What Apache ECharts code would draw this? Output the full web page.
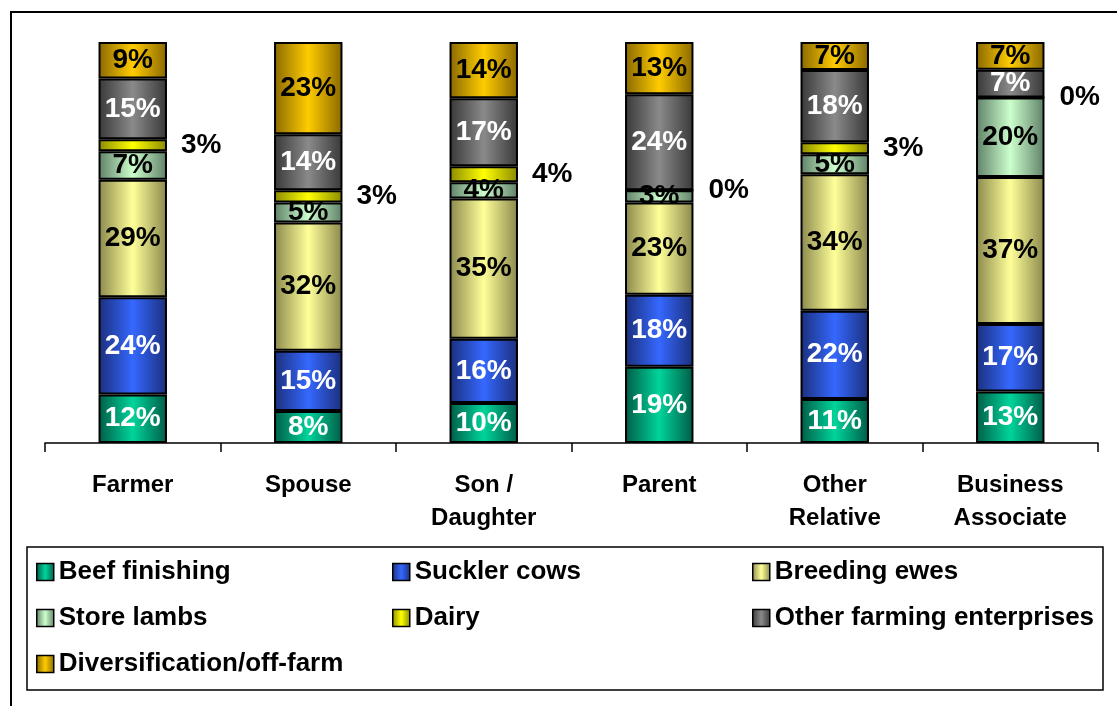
<!DOCTYPE html>
<html>
<head>
<meta charset="utf-8">
<script src="https://cdn.jsdelivr.net/npm/echarts@6/dist/echarts.min.js"></script>
<style>
  html, body { margin: 0; padding: 0; background: #fff; }
  #chart { width: 1117px; height: 706px; }
</style>
</head>
<body>
<div id="chart"></div>
<script>
// Enterprise mix by relationship to the farm (percent of each group)
const categories = ['Farmer', 'Spouse', 'Son /\nDaughter', 'Parent', 'Other\nRelative', 'Business\nAssociate'];
const seriesNames = ['Beef finishing', 'Suckler cows', 'Breeding ewes', 'Store lambs', 'Dairy', 'Other farming enterprises', 'Diversification/off-farm'];
const beefFinishing   = [12, 8, 10, 19, 11, 13];
const sucklerCows     = [24, 15, 16, 18, 22, 17];
const breedingEwes    = [29, 32, 35, 23, 34, 37];
const storeLambs      = [7, 5, 4, 3, 5, 20];
const dairy           = [3, 3, 4, 0, 3, 0];
const otherFarming    = [15, 14, 17, 24, 18, 7];
const diversification = [9, 23, 14, 13, 7, 7];

const values = [beefFinishing, sucklerCows, breedingEwes, storeLambs, dairy, otherFarming, diversification];

// [edge, centre] shades for the cylinder-like horizontal fill
const shades = [
  ['#005c46', '#00d49b'],
  ['#1b2f7c', '#3568ff'],
  ['#8a884c', '#ffff99'],
  ['#5f8068', '#ccffcc'],
  ['#8a8a00', '#ffff00'],
  ['#383838', '#8a8a8a'],
  ['#8a6800', '#ffcc00']
];
const labelColors = ['#fff', '#fff', '#000', '#000', '#000', '#fff', '#000'];

const FONT = "'Liberation Sans', Arial, sans-serif";

// each column is a 100% stack: scale values by the column total
const totals = categories.map((_, i) => values.reduce((s, arr) => s + arr[i], 0));

function fill(idx) {
  const [edge, mid] = shades[idx];
  return new echarts.graphic.LinearGradient(0, 0, 1, 0, [
    { offset: 0, color: edge },
    { offset: 0.5, color: mid },
    { offset: 1, color: edge }
  ]);
}

const series = seriesNames.map((name, s) => ({
  name: name,
  type: 'bar',
  stack: 'share',
  barWidth: '39%',
  clip: false,
  data: values[s].map((v, i) => v / totals[i] * 100),
  itemStyle: { color: fill(s), borderColor: '#000', borderWidth: 2 },
  emphasis: { disabled: true },
  label: {
    show: true,
    position: s === 4 ? 'right' : 'inside',
    distance: 14,
    formatter: p => values[s][p.dataIndex] + '%',
    color: labelColors[s],
    fontFamily: FONT,
    fontWeight: 'bold',
    fontSize: 28
  }
}));

const legendBase = {
  orient: 'vertical',
  selectedMode: false,
  padding: 0,
  top: 557,
  itemGap: 16,
  itemWidth: 17,
  itemHeight: 17,
  itemStyle: { borderColor: '#000', borderWidth: 1.5 },
  icon: 'rect',
  textStyle: { fontFamily: FONT, fontWeight: 'bold', fontSize: 26, color: '#000', lineHeight: 30 }
};

const chart = echarts.init(document.getElementById('chart'), null, { renderer: 'canvas' });
chart.setOption({
  animation: false,
  backgroundColor: '#fff',
  grid: { left: 45, right: 19, top: 42, bottom: 263, containLabel: false },
  xAxis: {
    type: 'category',
    data: categories,
    axisLine: { lineStyle: { color: '#000', width: 1.5 } },
    axisTick: { show: true, length: 9, lineStyle: { color: '#000', width: 1.5 } },
    axisLabel: {
      interval: 0,
      margin: 26,
      color: '#000',
      fontFamily: FONT,
      fontWeight: 'bold',
      fontSize: 24,
      lineHeight: 33
    }
  },
  yAxis: { type: 'value', min: 0, max: 100, show: false },
  legend: [
    Object.assign({}, legendBase, { left: 36, data: [seriesNames[0], seriesNames[3], seriesNames[6]] }),
    Object.assign({}, legendBase, { left: 392, data: [seriesNames[1], seriesNames[4]] }),
    Object.assign({}, legendBase, { left: 752, data: [seriesNames[2], seriesNames[5]] })
  ],
  graphic: [
    {
      type: 'rect',
      shape: { x: 11, y: 12, width: 1200, height: 800 },
      style: { fill: 'none', stroke: '#000', lineWidth: 2 },
      silent: true
    },
    {
      type: 'rect',
      shape: { x: 27, y: 547, width: 1076, height: 143 },
      style: { fill: 'none', stroke: '#000', lineWidth: 1.5 },
      silent: true
    }
  ],
  series: series
});
</script>
</body>
</html>
